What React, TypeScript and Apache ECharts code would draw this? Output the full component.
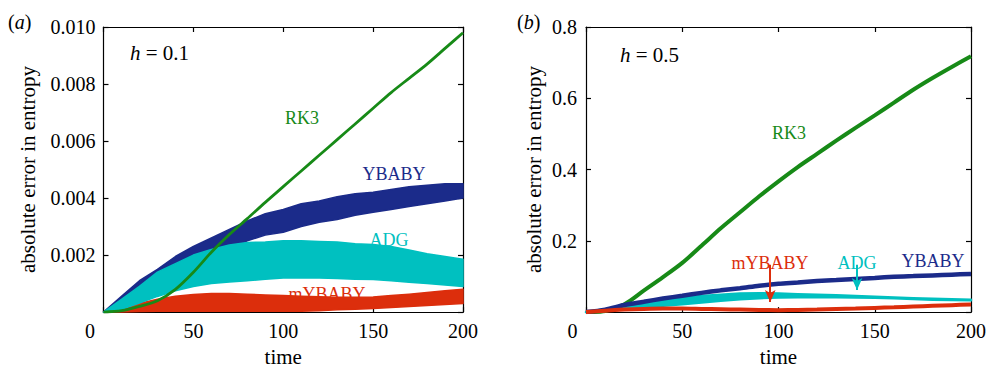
import React, { useEffect, useRef } from "react";
import * as echarts from "echarts";

// time samples (every 10 units)
const times = [0, 10, 20, 30, 40, 50, 60, 70, 80, 90, 100, 110, 120, 130, 140, 150, 160, 170, 180, 190, 200];

// ---- panel (a): h = 0.1 ----
const rk3A = [0, 0.00005, 0.0002, 0.0004, 0.0008, 0.0014, 0.0021, 0.00272, 0.00328, 0.00385, 0.0044, 0.00495, 0.0055, 0.00605, 0.0066, 0.00715, 0.0077, 0.0082, 0.0087, 0.00925, 0.0098];
const ybabyAHigh = [0, 0.00055, 0.0011, 0.0015, 0.00195, 0.0023, 0.0026, 0.0029, 0.0032, 0.00345, 0.0036, 0.0038, 0.0039, 0.00405, 0.00415, 0.0042, 0.0043, 0.0044, 0.00445, 0.0045, 0.0045];
const ybabyALow = [0, 0.0002, 0.0006, 0.0009, 0.0013, 0.0017, 0.002, 0.0022, 0.0025, 0.0027, 0.0028, 0.003, 0.00315, 0.00325, 0.0034, 0.0035, 0.0036, 0.0037, 0.0038, 0.0039, 0.004];
const adgAHigh = [0, 0.00045, 0.0009, 0.0014, 0.0017, 0.002, 0.0022, 0.00235, 0.00244, 0.00246, 0.0025, 0.0025, 0.00248, 0.00246, 0.0024, 0.00237, 0.0023, 0.00218, 0.00205, 0.00195, 0.00185];
const adgALow = [0, 0.0001, 0.00032, 0.00055, 0.00075, 0.0009, 0.001, 0.00106, 0.0011, 0.00115, 0.0012, 0.0012, 0.0012, 0.00118, 0.00115, 0.00114, 0.0011, 0.00105, 0.001, 0.00095, 0.0009];
const mybabyAHigh = [0, 0.00015, 0.0003, 0.00045, 0.00056, 0.00062, 0.00065, 0.00065, 0.00063, 0.0006, 0.00058, 0.00056, 0.00054, 0.00052, 0.00052, 0.00053, 0.00058, 0.00063, 0.00069, 0.00075, 0.0008];
const mybabyALow = [0, 0, 0.00002, 0.00003, 0.00003, 0.00003, 0.00003, 0.00003, 0.00003, 0.00003, 0.00003, 0.00003, 0.00005, 0.00008, 0.0001, 0.00013, 0.00016, 0.0002, 0.00023, 0.00027, 0.0003];

// ---- panel (b): h = 0.5 ----
const rk3B = [0, 0.003, 0.022, 0.06, 0.098, 0.138, 0.186, 0.235, 0.28, 0.325, 0.367, 0.407, 0.444, 0.481, 0.517, 0.552, 0.588, 0.624, 0.657, 0.688, 0.718];
const ybabyB = [0, 0.007, 0.02, 0.029, 0.038, 0.046, 0.054, 0.061, 0.067, 0.074, 0.0795, 0.083, 0.087, 0.09, 0.093, 0.096, 0.099, 0.101, 0.103, 0.105, 0.107];
const adgBHigh = [0, 0.008, 0.018, 0.027, 0.034, 0.04, 0.045, 0.049, 0.052, 0.053, 0.052, 0.05, 0.049, 0.047, 0.045, 0.043, 0.041, 0.039, 0.0375, 0.036, 0.035];
const adgBLow = [0, 0.003, 0.008, 0.013, 0.018, 0.022, 0.027, 0.032, 0.036, 0.039, 0.041, 0.042, 0.042, 0.042, 0.041, 0.04, 0.039, 0.037, 0.035, 0.034, 0.033];
const mybabyB = [0, 0.004, 0.007, 0.009, 0.01, 0.01, 0.009, 0.008, 0.007, 0.006, 0.0055, 0.0058, 0.007, 0.0085, 0.01, 0.0117, 0.0135, 0.0155, 0.0175, 0.0195, 0.0215];

// tick settings
const xTicks = { min: 0, max: 200, interval: 50 };
const yTicksA = { min: 0, max: 0.01, interval: 0.002 };
const yTicksB = { min: 0, max: 0.8, interval: 0.2 };

const GREEN = "#178a17";
const NAVY = "#1b2b8a";
const CYAN = "#00c0c0";
const RED = "#dc2e0c";
const FONT = "Liberation Serif";

const pairs = (arr: number[]) => times.map((t, i) => [t, arr[i]]);

function band(low: number[], high: number[], color: string, xi: number, yi: number, w: number) {
  return {
    type: "custom", xAxisIndex: xi, yAxisIndex: yi, silent: true,
    data: [[0, 0]],
    renderItem: (_p: any, api: any) => {
      const top = times.map((t, i) => api.coord([t, high[i]]));
      const bottom = times.map((t, i) => api.coord([t, low[i]])).reverse();
      return {
        type: "polygon",
        shape: { points: top.concat(bottom) },
        style: { fill: color, stroke: color, lineWidth: w, lineJoin: "round" },
      };
    },
  };
}

function line(data: number[], color: string, xi: number, yi: number, w: number, extra: any = {}) {
  return {
    type: "line", xAxisIndex: xi, yAxisIndex: yi, symbol: "none",
    smooth: 0.3,
    lineStyle: { color, width: w }, data: pairs(data), silent: true, ...extra,
  };
}

const axisLineStyle = { color: "#000", width: 1.2 };
const tok = (size: number, extra: any = {}) => ({ fontFamily: FONT, fontSize: size, color: "#000", ...extra });

function xAxes(grid: number) {
  return [
    {
      gridIndex: grid, type: "value", ...xTicks, position: "bottom",
      axisLine: { show: true, onZero: false, lineStyle: axisLineStyle },
      axisTick: { show: true, inside: true, length: 5, lineStyle: axisLineStyle },
      splitLine: { show: false },
      axisLabel: {
        color: "#000", fontFamily: FONT, fontSize: 20, margin: 9,
        formatter: (v: number) => (v === 0 ? "{z|0}" : `{n|${v}}`),
        rich: { z: tok(20, { padding: [0, 27, 0, 0] }), n: tok(20) },
      },
      name: "{n|time}", nameLocation: "middle", nameGap: 29,
      nameTextStyle: { color: "#000", fontFamily: FONT, fontSize: 21, rich: { n: tok(21) } },
    },
    {
      gridIndex: grid, type: "value", ...xTicks, position: "top",
      axisLine: { show: true, onZero: false, lineStyle: axisLineStyle },
      axisTick: { show: true, inside: true, length: 5, lineStyle: axisLineStyle },
      splitLine: { show: false }, axisLabel: { show: false },
    },
  ];
}

function yAxes(grid: number, ticks: any, digits: number, gap: number, margin: number) {
  return [
    {
      gridIndex: grid, type: "value", ...ticks, position: "left",
      axisLine: { show: true, onZero: false, lineStyle: axisLineStyle },
      axisTick: { show: true, inside: true, length: 5, lineStyle: axisLineStyle },
      splitLine: { show: false },
      axisLabel: {
        color: "#000", fontFamily: FONT, fontSize: 20, margin,
        formatter: (v: number) => (v === 0 ? "" : `{n|${v.toFixed(digits)}}`),
        rich: { n: tok(20) },
      },
      name: "{n|absolute error in entropy}", nameLocation: "middle", nameGap: gap,
      nameTextStyle: { color: "#000", fontFamily: FONT, fontSize: 21, rich: { n: tok(21) } },
    },
    {
      gridIndex: grid, type: "value", ...ticks, position: "right",
      axisLine: { show: true, onZero: false, lineStyle: axisLineStyle },
      axisTick: { show: true, inside: true, length: 5, lineStyle: axisLineStyle },
      splitLine: { show: false }, axisLabel: { show: false },
    },
  ];
}

function label(text: string, x: number, y: number, color: string, size = 18) {
  return {
    type: "text", x, y, silent: true, z: 100,
    style: { text, fill: color, fontFamily: FONT, fontSize: size, align: "center", verticalAlign: "middle" },
  };
}

function hLabel(value: string, x: number, y: number) {
  return {
    type: "text", x, y, silent: true, z: 100,
    style: {
      text: `{i|h}{n| = ${value}}`, fill: "#000", fontFamily: FONT, fontSize: 21, align: "left", verticalAlign: "middle",
      rich: {
        i: { fontStyle: "italic", fontFamily: FONT, fontSize: 21, fill: "#000" },
        n: { fontFamily: FONT, fontSize: 21, fill: "#000" },
      },
    },
  };
}

function panelLetter(letter: string, x: number, y: number) {
  return {
    type: "text", x, y, silent: true, z: 100,
    style: {
      text: `{n|(}{i|${letter}}{n|)}`, fill: "#000", fontFamily: FONT, fontSize: 20, align: "left", verticalAlign: "middle",
      rich: {
        i: { fontStyle: "italic", fontFamily: FONT, fontSize: 20, fill: "#000" },
        n: { fontFamily: FONT, fontSize: 20, fill: "#000" },
      },
    },
  };
}

export default function App() {
  const ref = useRef<HTMLDivElement>(null);
  useEffect(() => {
    if (!ref.current) return;
    const chart = echarts.init(ref.current, undefined, { renderer: "svg" });
    const arrows = {
      silent: true, symbol: ["none", "arrow"], symbolSize: [8, 12],
      label: { show: false }, z: 10,
      data: [
        [{ coord: [95.7, 0.133], lineStyle: { color: RED, width: 2, type: "solid" } }, { coord: [95.7, 0.028] }],
        [{ coord: [140.8, 0.133], lineStyle: { color: CYAN, width: 2, type: "solid" } }, { coord: [140.8, 0.062] }],
      ],
    };
    const option: any = {
      animation: false,
      backgroundColor: "#fff",
      textStyle: { fontFamily: FONT },
      grid: [
        { left: 103.5, top: 27, width: 359.5, height: 295 },
        { left: 586, top: 27, width: 386, height: 295 },
      ],
      xAxis: [...xAxes(0), ...xAxes(1)],
      yAxis: [...yAxes(0, yTicksA, 3, 65, 8), ...yAxes(1, yTicksB, 1, 42, 9)],
      series: [
        band(mybabyALow, mybabyAHigh, RED, 0, 0, 1.5),
        band(ybabyALow, ybabyAHigh, NAVY, 0, 0, 1.5),
        band(adgALow, adgAHigh, CYAN, 0, 0, 1.5),
        line(rk3A, GREEN, 0, 0, 2.8),
        line(rk3B, GREEN, 2, 2, 4),
        line(ybabyB, NAVY, 2, 2, 4.5),
        band(adgBLow, adgBHigh, CYAN, 2, 2, 2.5),
        line(mybabyB, RED, 2, 2, 4, { markLine: arrows }),
      ],
      graphic: {
        z: 100,
        elements: [
          panelLetter("a", 8, 22),
          panelLetter("b", 517, 22),
          hLabel("0.1", 130, 53),
          hLabel("0.5", 620, 55),
          label("RK3", 302, 118, GREEN),
          label("YBABY", 394, 174, NAVY),
          label("ADG", 389, 240, CYAN),
          label("mYBABY", 327, 294, RED),
          label("RK3", 789, 133, GREEN),
          label("mYBABY", 770, 263, RED),
          label("ADG", 857, 263, CYAN),
          label("YBABY", 933, 261, NAVY),
        ],
      },
    };
    chart.setOption(option);
    return () => chart.dispose();
  }, []);
  return <div ref={ref} style={{ position: "fixed", left: 0, top: 0, width: 989, height: 372 }} />;
}
